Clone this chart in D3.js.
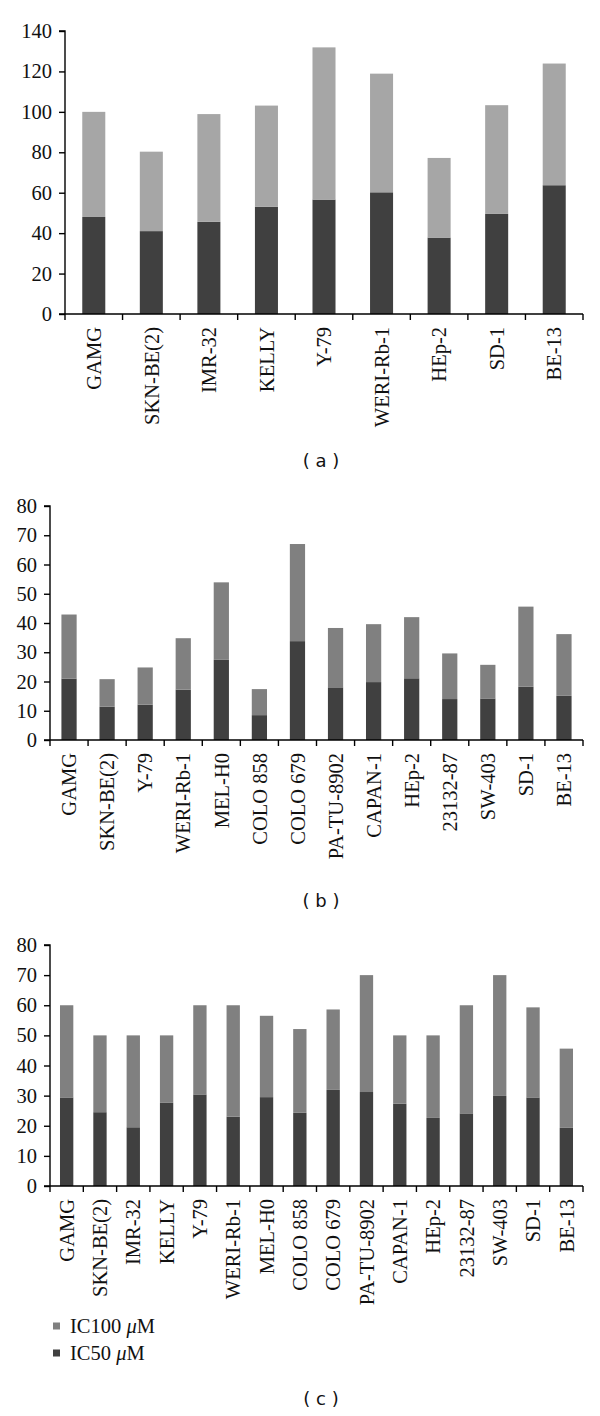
<!DOCTYPE html>
<html>
<head>
<meta charset="utf-8">
<script src="https://cdn.jsdelivr.net/npm/d3@7"></script>
<style>
  html, body { margin: 0; padding: 0; background: #fff; }
  svg { display: block; }
</style>
</head>
<body>
<div id="chart"></div>
<script>
// ---------- DATA ----------
const categoriesA = ["GAMG", "SKN-BE(2)", "IMR-32", "KELLY", "Y-79", "WERI-Rb-1", "HEp-2", "SD-1", "BE-13"];
const ic50A  = [48, 41, 45.6, 53, 56.6, 60.2, 37.8, 49.5, 63.7];
const ic100A = [52, 39.3, 53.3, 50.1, 75.3, 58.7, 39.4, 53.8, 60.2];
const ticksA = [0, 20, 40, 60, 80, 100, 120, 140];

const categoriesB = ["GAMG", "SKN-BE(2)", "Y-79", "WERI-Rb-1", "MEL-H0", "COLO 858", "COLO 679", "PA-TU-8902", "CAPAN-1", "HEp-2", "23132-87", "SW-403", "SD-1", "BE-13"];
const ic50B  = [21, 11.4, 12.1, 17.2, 27.4, 8.5, 33.8, 18, 19.8, 21.1, 14.0, 14.2, 18.2, 15.1];
const ic100B = [21.9, 9.4, 12.7, 17.6, 26.5, 8.9, 33.2, 20.3, 19.8, 20.9, 15.6, 11.5, 27.4, 21.1];
const ticksB = [0, 10, 20, 30, 40, 50, 60, 70, 80];

const categoriesC = ["GAMG", "SKN-BE(2)", "IMR-32", "KELLY", "Y-79", "WERI-Rb-1", "MEL-H0", "COLO 858", "COLO 679", "PA-TU-8902", "CAPAN-1", "HEp-2", "23132-87", "SW-403", "SD-1", "BE-13"];
const ic50C  = [29.4, 24.5, 19.5, 27.6, 30.4, 23.0, 29.5, 24.3, 31.9, 31.2, 27.3, 22.6, 24.1, 29.9, 29.4, 19.3];
const ic100C = [30.6, 25.5, 30.5, 22.4, 29.6, 37.0, 27.0, 27.8, 26.7, 38.8, 22.7, 27.4, 35.9, 40.1, 29.9, 26.3];
const ticksC = [0, 10, 20, 30, 40, 50, 60, 70, 80];

const seriesKeys = ["IC50", "IC100"];
const legendLabels = ["IC100", "IC50"];
const captions = ["( a )", "( b )", "( c )"];

// ---------- DRAW ----------
const W = 600, H = 1416;
const svg = d3.select("#chart").append("svg")
  .attr("width", W).attr("height", H)
  .style("background", "#fff");

const DARK = "#404040";
const SERIF = "Liberation Serif, serif";

function drawPanel(cfg) {
  const { cats, ic50, ic100, ticks, x0, x1, yTop, yZero, light, caption, capY } = cfg;
  const rows = cats.map((c, i) => ({ cat: c, IC50: ic50[i], IC100: ic100[i] }));
  const stacked = d3.stack().keys(seriesKeys)(rows);

  const x = d3.scaleBand().domain(cats).range([x0, x1]).paddingInner(0.6).paddingOuter(0.3);
  const xb = d3.scaleBand().domain(cats).range([x0, x1]);
  const y = d3.scaleLinear().domain([0, d3.max(ticks)]).range([yZero, yTop]);

  const g = svg.append("g");
  const colors = { IC50: DARK, IC100: light };

  g.selectAll("g.series").data(stacked).join("g")
    .attr("fill", d => colors[d.key])
    .selectAll("rect").data(d => d).join("rect")
    .attr("x", d => x(d.data.cat))
    .attr("width", x.bandwidth())
    .attr("y", d => y(d[1]))
    .attr("height", d => y(d[0]) - y(d[1]));

  // y axis
  const yAxis = d3.axisLeft(y).tickValues(ticks).tickSize(6).tickPadding(7);
  const ya = g.append("g").attr("transform", `translate(${x0},0)`).call(yAxis);
  ya.select(".domain").attr("d", `M-6,${yTop}H0V${yZero}`).attr("stroke", "#000").attr("stroke-width", 1.4);
  ya.selectAll(".tick line").attr("stroke", "#000").attr("stroke-width", 1.4);
  ya.selectAll(".tick text").attr("font-size", 20.5).attr("fill", "#111")
    .attr("font-family", SERIF);

  // x axis line + boundary ticks
  g.append("line").attr("x1", x0 - 6).attr("x2", x1).attr("y1", yZero).attr("y2", yZero)
    .attr("stroke", "#000").attr("stroke-width", 1.4);
  const bounds = cats.map(c => xb(c)).concat([x1]);
  g.selectAll("line.bt").data(bounds).join("line").attr("class", "bt")
    .attr("x1", d => d).attr("x2", d => d).attr("y1", yZero).attr("y2", yZero + 6)
    .attr("stroke", "#000").attr("stroke-width", 1.4);

  // category labels
  g.selectAll("text.cat").data(cats).join("text").attr("class", "cat")
    .attr("transform", d => `translate(${xb(d) + xb.bandwidth() / 2},${yZero + 13}) rotate(-90)`)
    .attr("text-anchor", "end")
    .attr("dy", "0.35em")
    .attr("font-family", SERIF)
    .attr("font-size", 20.5)
    .attr("fill", "#111")
    .text(d => d);

  // caption
  svg.append("text").attr("x", 321).attr("y", capY)
    .attr("text-anchor", "middle")
    .attr("font-family", "DejaVu Sans, sans-serif")
    .attr("font-size", 18)
    .attr("fill", "#111")
    .attr("xml:space", "preserve")
    .text(caption);
}

drawPanel({ cats: categoriesA, ic50: ic50A, ic100: ic100A, ticks: ticksA,
  x0: 65, x1: 583, yTop: 31, yZero: 314, light: "#a6a6a6", caption: captions[0], capY: 467 });
drawPanel({ cats: categoriesB, ic50: ic50B, ic100: ic100B, ticks: ticksB,
  x0: 50, x1: 583, yTop: 506, yZero: 740, light: "#808080", caption: captions[1], capY: 907 });
drawPanel({ cats: categoriesC, ic50: ic50C, ic100: ic100C, ticks: ticksC,
  x0: 50, x1: 583, yTop: 945, yZero: 1186, light: "#808080", caption: captions[2], capY: 1405 });

// legend
const legendColors = ["#808080", DARK];
const lg = svg.append("g");
legendLabels.forEach((lab, i) => {
  const yy = 1326 + i * 27;
  lg.append("rect").attr("x", 53).attr("y", yy - 3.5).attr("width", 7).attr("height", 7)
    .attr("fill", legendColors[i]);
  const t = lg.append("text").attr("x", 70).attr("y", yy + 7)
    .attr("font-family", SERIF).attr("font-size", 20.5).attr("fill", "#111");
  t.append("tspan").text(lab + " ");
  t.append("tspan").attr("font-style", "italic").text("\u03bc");
  t.append("tspan").text("M");
});
</script>
</body>
</html>
